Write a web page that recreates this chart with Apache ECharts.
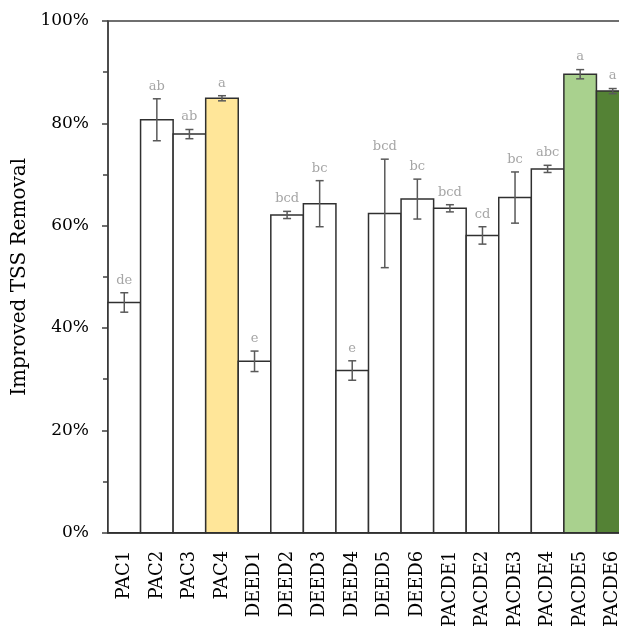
<!DOCTYPE html>
<html>
<head>
<meta charset="utf-8">
<script src="https://cdn.jsdelivr.net/npm/echarts@6/dist/echarts.min.js"></script>
<style>
html,body{margin:0;padding:0;overflow:hidden;background:#fff;width:619px;height:630px;}
#chart{width:660px;height:630px;}
</style>
</head>
<body>
<div id="chart"></div>
<script>
var categories = ['PAC1','PAC2','PAC3','PAC4','DEED1','DEED2','DEED3','DEED4','DEED5','DEED6','PACDE1','PACDE2','PACDE3','PACDE4','PACDE5','PACDE6'];
var values = [45.0, 80.7, 77.9, 84.9, 33.5, 62.1, 64.3, 31.7, 62.4, 65.2, 63.4, 58.1, 65.5, 71.1, 89.6, 86.3];
var errors = [1.9, 4.1, 0.9, 0.5, 2.0, 0.7, 4.5, 1.9, 10.6, 3.9, 0.7, 1.7, 5.0, 0.7, 0.9, 0.5];
var letters = ['de','ab','ab','a','e','bcd','bc','e','bcd','bc','bcd','cd','bc','abc','a','a'];
var fills = ['#FFFFFF','#FFFFFF','#FFFFFF','#FFE699','#FFFFFF','#FFFFFF','#FFFFFF','#FFFFFF','#FFFFFF','#FFFFFF','#FFFFFF','#FFFFFF','#FFFFFF','#FFFFFF','#A9D18E','#548235'];
var yTicks = [0, 20, 40, 60, 80, 100];

var FONT = 'DejaVu Serif';
var chart = echarts.init(document.getElementById('chart'), null, {renderer: 'canvas'});

var barData = values.map(function (v, i) {
  return [i, v];
});
var errData = values.map(function (v, i) {
  return [i, v, errors[i]];
});

chart.setOption({
  animation: false,
  grid: {left: 108, top: 21, bottom: 94, right: 31, show: true, borderColor: '#404040', borderWidth: 1.5, backgroundColor: 'transparent'},
  xAxis: {
    type: 'category',
    data: categories,
    axisTick: {show: false},
    axisLine: {lineStyle: {color: '#404040', width: 1.5}},
    axisLabel: {rotate: 90, margin: 18, fontFamily: FONT, fontSize: 18, color: '#000'},
    splitLine: {show: false}
  },
  yAxis: {
    type: 'value',
    min: yTicks[0],
    max: yTicks[yTicks.length - 1],
    interval: 20,
    name: 'Improved TSS Removal',
    nameLocation: 'middle',
    nameRotate: 90,
    nameGap: 76,
    nameTextStyle: {fontFamily: FONT, fontSize: 20, color: '#000'},
    axisLine: {show: true, lineStyle: {color: '#404040', width: 1.5}},
    axisTick: {show: true, length: 6, lineStyle: {color: '#404040', width: 1.5}},
    minorTick: {show: true, splitNumber: 2, length: 5, lineStyle: {color: '#404040', width: 1.5}},
    axisLabel: {formatter: '{value}%', fontFamily: FONT, fontSize: 17, color: '#000', margin: 19},
    splitLine: {show: false}
  },
  series: [
    {
      type: 'custom',
      name: 'Improved TSS Removal',
      data: barData,
      z: 2,
      renderItem: function (params, api) {
        var i = api.value(0), v = api.value(1);
        var p = api.coord([i, v]);
        var base = api.coord([i, 0]);
        var w = api.size([1, 0])[0];
        return {
          type: 'rect',
          shape: {x: p[0] - w / 2, y: p[1], width: w, height: base[1] - p[1]},
          style: {fill: fills[params.dataIndex], stroke: '#303030', lineWidth: 1.5}
        };
      }
    },
    {
      type: 'custom',
      data: errData,
      z: 10,
      renderItem: function (params, api) {
        var i = api.value(0), v = api.value(1), e = api.value(2);
        var top = api.coord([i, v + e]);
        var bot = api.coord([i, v - e]);
        var x = top[0];
        var cap = 4;
        var st = {stroke: '#595959', lineWidth: 1.5};
        return {
          type: 'group',
          children: [
            {type: 'line', shape: {x1: x, y1: top[1], x2: x, y2: bot[1]}, style: st},
            {type: 'line', shape: {x1: x - cap, y1: top[1], x2: x + cap, y2: top[1]}, style: st},
            {type: 'line', shape: {x1: x - cap, y1: bot[1], x2: x + cap, y2: bot[1]}, style: st},
            {type: 'text', style: {x: x, y: top[1] - 6, text: letters[params.dataIndex], textAlign: 'center', textVerticalAlign: 'bottom', fontFamily: FONT, fontSize: 13, fill: '#A6A6A6'}}
          ]
        };
      }
    }
  ]
});
</script>
</body>
</html>
